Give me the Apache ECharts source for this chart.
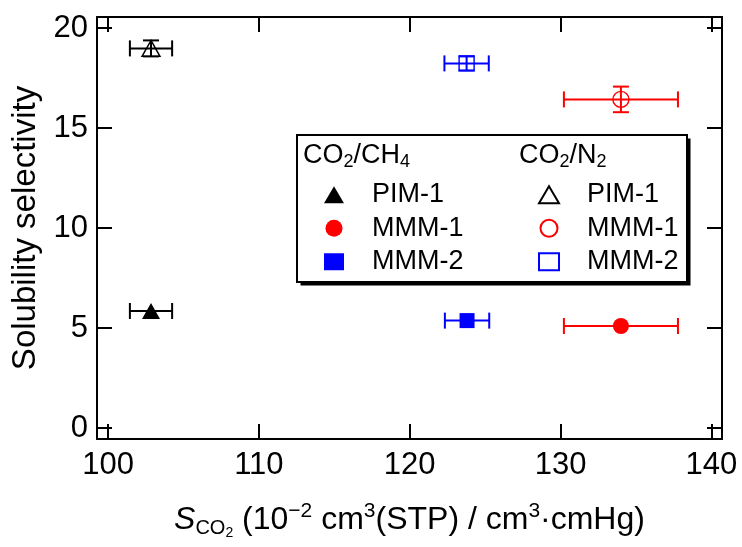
<!DOCTYPE html>
<html>
<head>
<meta charset="utf-8">
<script src="https://cdn.jsdelivr.net/npm/echarts@6/dist/echarts.min.js"></script>
<style>html,body{margin:0;padding:0;background:#fff}#c{width:742px;height:547px}</style>
</head>
<body>
<div id="c"></div>
<script>
// ---- data ----
const materials = ['PIM-1', 'MMM-1', 'MMM-2'];
const xTicks = [100, 110, 120, 130, 140];
const yTicks = [0, 5, 10, 15, 20];
// CO2/CH4 (filled markers)
const ch4X = [102.85, 134.0, 123.8];
const ch4Y = [5.85, 5.1, 5.37];
const ch4XErr = [1.4, 3.78, 1.47];
const ch4YErr = [0, 0, 0];
// CO2/N2 (open markers)
const n2X = [102.85, 134.0, 123.77];
const n2Y = [18.98, 16.43, 18.23];
const n2XErr = [1.4, 3.78, 1.47];
const n2YErr = [0.4, 0.64, 0.35];

const colors = ['#000000', '#ff0000', '#0000ff'];
const symbols = ['triangle', 'circle', 'rect'];
const symSizes = [[18, 16], 16, 15];
const FONT = 'Liberation Sans, Arial, sans-serif';

const series = [];
function addGroup(prefix, X, Y, XE, YE, filled) {
  materials.forEach((m, i) => {
    series.push({
      type: 'custom',
      name: prefix + '|' + m + '|err',
      silent: true,
      z: 2,
      data: [[X[i], Y[i], XE[i], YE[i]]],
      renderItem: function (params, api) {
        const x = api.value(0), y = api.value(1), xe = api.value(2), ye = api.value(3);
        const l = api.coord([x - xe, y]), r = api.coord([x + xe, y]);
        const t = api.coord([x, y + ye]), b = api.coord([x, y - ye]);
        const cap = 8;
        const st = { stroke: colors[i], lineWidth: 2 };
        const ch = [
          { type: 'line', shape: { x1: l[0], y1: l[1], x2: r[0], y2: r[1] }, style: st },
          { type: 'line', shape: { x1: l[0], y1: l[1] - cap, x2: l[0], y2: l[1] + cap }, style: st },
          { type: 'line', shape: { x1: r[0], y1: r[1] - cap, x2: r[0], y2: r[1] + cap }, style: st }
        ];
        if (ye > 0) {
          ch.push(
            { type: 'line', shape: { x1: t[0], y1: t[1], x2: b[0], y2: b[1] }, style: st },
            { type: 'line', shape: { x1: t[0] - cap, y1: t[1], x2: t[0] + cap, y2: t[1] }, style: st },
            { type: 'line', shape: { x1: b[0] - cap, y1: b[1], x2: b[0] + cap, y2: b[1] }, style: st }
          );
        }
        return { type: 'group', children: ch };
      }
    });
    series.push({
      type: 'scatter',
      name: prefix + '|' + m,
      z: 5,
      symbol: symbols[i],
      symbolSize: symSizes[i],
      data: [[X[i], Y[i]]],
      itemStyle: filled
        ? { color: colors[i], opacity: 1 }
        : { color: 'rgba(255,255,255,0)', borderColor: colors[i], borderWidth: 1.4, opacity: 1 }
    });
  });
}
addGroup('CH4', ch4X, ch4Y, ch4XErr, ch4YErr, true);
addGroup('N2', n2X, n2Y, n2XErr, n2YErr, false);

const axisCommon = {
  axisLine: { show: true, onZero: false, lineStyle: { color: '#000', width: 2 } },
  splitLine: { show: false }
};
const legendCommon = {
  orient: 'vertical',
  z: 20,
  padding: 0,
  itemGap: 0,
  itemWidth: 20,
  itemHeight: 17,
  selectedMode: false,
  formatter: n => n.split('|')[1],
  textStyle: { fontFamily: FONT, fontSize: 27, color: '#000', lineHeight: 33.5, padding: [0, 0, 0, 23] }
};

const chart = echarts.init(document.getElementById('c'));
chart.setOption({
  animation: false,
  backgroundColor: '#fff',
  grid: { left: 97, right: 20, top: 17, bottom: 108, containLabel: false },
  xAxis: [
    Object.assign({}, axisCommon, {
      type: 'value', position: 'bottom', min: 99.27, max: 140.7,
      axisTick: { inside: true, length: 15, customValues: xTicks, lineStyle: { color: '#000', width: 2 } },
      axisLabel: { customValues: xTicks, fontFamily: FONT, fontSize: 31, color: '#000', margin: 11 },
      name: '{it|S}{sub|CO}{sub2|2}{n| (10}{sup|−2}{n| cm}{sup|3}{n|(STP) / cm}{sup|3}{n|·cmHg)}',
      nameLocation: 'middle',
      nameGap: 61,
      nameTextStyle: {
        fontFamily: FONT, fontSize: 32, color: '#000',
        rich: {
          it: { fontFamily: FONT, fontSize: 32, fontStyle: 'italic', color: '#000' },
          n: { fontFamily: FONT, fontSize: 32, color: '#000' },
          sub: { fontFamily: FONT, fontSize: 20, color: '#000', padding: [16, 0, 0, 0] },
          sub2: { fontFamily: FONT, fontSize: 14, color: '#000', padding: [26, 0, 0, 0] },
          sup: { fontFamily: FONT, fontSize: 21, color: '#000', padding: [0, 0, 18, 0] }
        }
      }
    }),
    Object.assign({}, axisCommon, {
      type: 'value', position: 'top', min: 99.27, max: 140.7,
      axisTick: { inside: true, length: 15, customValues: xTicks, lineStyle: { color: '#000', width: 2 } },
      axisLabel: { show: false }
    })
  ],
  yAxis: [
    Object.assign({}, axisCommon, {
      type: 'value', position: 'left', min: -0.55, max: 20.55,
      axisTick: { inside: true, length: 15, customValues: yTicks, lineStyle: { color: '#000', width: 2 } },
      axisLabel: { customValues: yTicks, fontFamily: FONT, fontSize: 31, color: '#000', margin: 9 },
      name: 'Solubility selectivity',
      nameLocation: 'middle',
      nameGap: 55,
      nameTextStyle: { fontFamily: FONT, fontSize: 33, color: '#000' }
    }),
    Object.assign({}, axisCommon, {
      type: 'value', position: 'right', min: -0.55, max: 20.55,
      axisTick: { inside: true, length: 15, customValues: yTicks, lineStyle: { color: '#000', width: 2 } },
      axisLabel: { show: false }
    })
  ],
  legend: [
    Object.assign({}, legendCommon, { left: 324, top: 178, data: materials.map(m => 'CH4|' + m) }),
    Object.assign({}, legendCommon, { left: 538, top: 178, data: materials.map(m => 'N2|' + m) })
  ],
  graphic: [
    { type: 'rect', z: 10, shape: { x: 300.5, y: 138.5, width: 390, height: 147 }, style: { fill: '#000' } },
    { type: 'rect', z: 11, shape: { x: 297, y: 135, width: 390, height: 147 }, style: { fill: '#fff', stroke: '#000', lineWidth: 2 } },
    {
      type: 'text', z: 12, left: 303, top: 142,
      style: {
        text: '{n|CO}{s|2}{n|/CH}{s|4}', fontFamily: FONT,
        rich: { n: { fontFamily: FONT, fontSize: 27, fill: '#000' }, s: { fontFamily: FONT, fontSize: 18, fill: '#000', padding: [14, 0, 0, 0] } }
      }
    },
    {
      type: 'text', z: 12, left: 519, top: 142,
      style: {
        text: '{n|CO}{s|2}{n|/N}{s|2}', fontFamily: FONT,
        rich: { n: { fontFamily: FONT, fontSize: 27, fill: '#000' }, s: { fontFamily: FONT, fontSize: 18, fill: '#000', padding: [14, 0, 0, 0] } }
      }
    }
  ],
  series: series
});
</script>
</body>
</html>
